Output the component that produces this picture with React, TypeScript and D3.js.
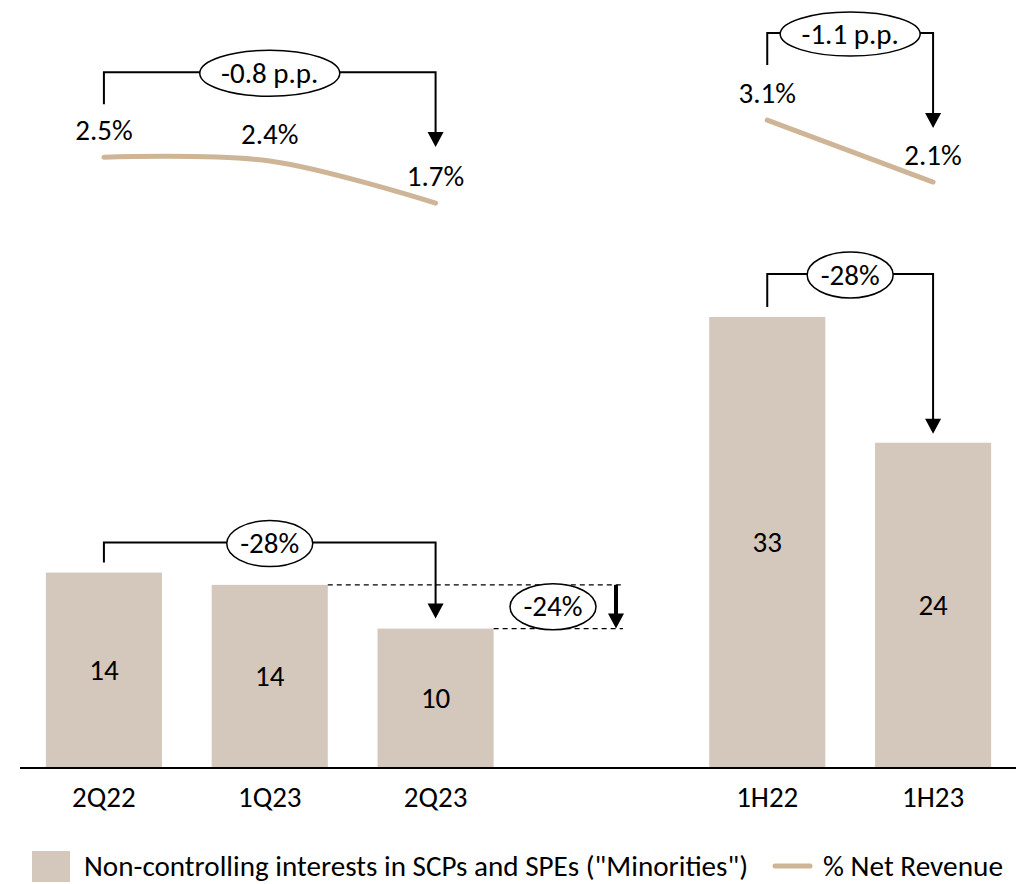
import React from "react";
import * as d3 from "d3";

const categories = ["2Q22", "1Q23", "2Q23", "gap", "1H22", "1H23"];
const barCategories = ["2Q22", "1Q23", "2Q23", "1H22", "1H23"];
const barValues = [14.3, 13.4, 10.2, 33.0, 23.8];
const barLabels = ["14", "14", "10", "33", "24"];

const quarterLineCats = ["2Q22", "1Q23", "2Q23"];
const quarterLineValues = [2.48, 2.42, 1.74];
const quarterLineLabels = ["2.5%", "2.4%", "1.7%"];

const halfLineCats = ["1H22", "1H23"];
const halfLineValues = [3.08, 2.08];
const halfLineLabels = ["3.1%", "2.1%"];

const legendBarText = 'Non-controlling interests in SCPs and SPEs ("Minorities")';
const legendLineText = "% Net Revenue";

const BAR_COLOR = "#d4c7bb";
const LINE_COLOR = "#cfb597";
const FONT = "Carlito, Calibri, Lato, sans-serif";
const FS = 29;

const W = 1025;
const H = 884;

const x = d3
  .scaleBand<string>()
  .domain(categories)
  .range([21, 1016])
  .paddingInner(0.3)
  .paddingOuter(0.15);

const yBar = d3.scaleLinear().domain([0, 33]).range([768, 317]);
const yLine = d3.scaleLinear().domain([2, 3]).range([187, 125]);

const cx = (c: string) => (x(c) ?? 0) + x.bandwidth() / 2;

const lineGen = d3
  .line<[number, number]>()
  .x((d) => d[0])
  .y((d) => d[1])
  .curve(d3.curveCatmullRom.alpha(0.5));

function ArrowHead({ px, py, w = 16, h = 15 }: { px: number; py: number; w?: number; h?: number }) {
  return <path d={`M${px - w / 2},${py - h}L${px + w / 2},${py - h}L${px},${py}Z`} fill="#000" />;
}

function Bracket({
  x1,
  y1,
  yTop,
  x2,
  yTip,
  label,
  rx,
  ry,
}: {
  x1: number;
  y1: number;
  yTop: number;
  x2: number;
  yTip: number;
  label: string;
  rx: number;
  ry: number;
}) {
  const mx = (x1 + x2) / 2;
  return (
    <g>
      <path
        d={`M${x1},${y1}V${yTop}H${x2}V${yTip - 14}`}
        fill="none"
        stroke="#000"
        strokeWidth={2}
      />
      <ArrowHead px={x2} py={yTip} />
      <ellipse cx={mx} cy={yTop + 1} rx={rx} ry={ry} fill="#fff" stroke="#000" strokeWidth={1.5} />
      <text x={mx} y={yTop + 1 + 9.5} textAnchor="middle" fontSize={FS} fill="#000">
        {label}
      </text>
    </g>
  );
}

export default function App() {
  const qPts: [number, number][] = quarterLineCats.map((c, i) => [cx(c), yLine(quarterLineValues[i])]);
  const hPts: [number, number][] = halfLineCats.map((c, i) => [cx(c), yLine(halfLineValues[i])]);

  const v = (c: string) => barValues[barCategories.indexOf(c)];

  const yA = yBar(v("1Q23"));
  const yB = yBar(v("2Q23"));
  const dashEnd = 623;
  const thickX = 616;

  return (
    <svg
      width={W}
      height={H}
      style={{ position: "absolute", left: 0, top: 0, background: "#fff" }}
      fontFamily={FONT}
    >
      <rect x={0} y={0} width={W} height={H} fill="#fff" />

      {/* bars */}
      {barCategories.map((c, i) => (
        <g key={c}>
          <rect
            x={x(c)}
            y={yBar(barValues[i])}
            width={x.bandwidth()}
            height={yBar(0) - yBar(barValues[i])}
            fill={BAR_COLOR}
          />
          <text
            x={cx(c)}
            y={(yBar(barValues[i]) + yBar(0)) / 2 + 9.5}
            textAnchor="middle"
            fontSize={FS}
            fill="#000"
          >
            {barLabels[i]}
          </text>
        </g>
      ))}

      {/* axis */}
      <line x1={20} x2={1016} y1={yBar(0)} y2={yBar(0)} stroke="#000" strokeWidth={2} />
      {categories
        .filter((c) => c !== "gap")
        .map((c) => (
          <text key={c} x={cx(c)} y={807} textAnchor="middle" fontSize={FS} fill="#000">
            {c}
          </text>
        ))}

      {/* % net revenue lines */}
      <path d={lineGen(qPts) ?? ""} fill="none" stroke={LINE_COLOR} strokeWidth={5} strokeLinecap="round" />
      <path d={lineGen(hPts) ?? ""} fill="none" stroke={LINE_COLOR} strokeWidth={5} strokeLinecap="round" />
      {qPts.map((p, i) => (
        <text key={"q" + i} x={p[0]} y={p[1] - 17} textAnchor="middle" fontSize={FS} fill="#000">
          {quarterLineLabels[i]}
        </text>
      ))}
      {hPts.map((p, i) => (
        <text key={"h" + i} x={p[0]} y={p[1] - 17} textAnchor="middle" fontSize={FS} fill="#000">
          {halfLineLabels[i]}
        </text>
      ))}

      {/* line brackets */}
      <Bracket
        x1={qPts[0][0]}
        y1={qPts[0][1] - 53}
        yTop={qPts[0][1] - 85}
        x2={qPts[2][0]}
        yTip={qPts[2][1] - 56}
        label="-0.8 p.p."
        rx={70}
        ry={23}
      />
      <Bracket
        x1={hPts[0][0]}
        y1={hPts[0][1] - 55}
        yTop={hPts[0][1] - 87}
        x2={hPts[1][0]}
        yTip={hPts[1][1] - 54}
        label="-1.1 p.p."
        rx={70}
        ry={22}
      />

      {/* bar brackets */}
      <Bracket
        x1={cx("2Q22")}
        y1={yBar(v("2Q22")) - 10}
        yTop={yBar(v("2Q22")) - 30}
        x2={cx("2Q23")}
        yTip={yBar(v("2Q23")) - 10}
        label="-28%"
        rx={43}
        ry={23}
      />
      <Bracket
        x1={cx("1H22")}
        y1={yBar(v("1H22")) - 10}
        yTop={yBar(v("1H22")) - 43}
        x2={cx("1H23")}
        yTip={yBar(v("1H23")) - 9}
        label="-28%"
        rx={43}
        ry={23}
      />

      {/* -24% dashed comparison */}
      <line
        x1={(x("1Q23") ?? 0) + x.bandwidth()}
        x2={dashEnd}
        y1={yA}
        y2={yA}
        stroke="#000"
        strokeWidth={1.2}
        strokeDasharray="5,4"
      />
      <line
        x1={(x("2Q23") ?? 0) + x.bandwidth()}
        x2={dashEnd}
        y1={yB}
        y2={yB}
        stroke="#000"
        strokeWidth={1.2}
        strokeDasharray="5,4"
      />
      <line x1={thickX} x2={thickX} y1={yA} y2={yB - 14} stroke="#000" strokeWidth={4} />
      <ArrowHead px={thickX} py={yB} />
      <ellipse cx={553} cy={(yA + yB) / 2} rx={43} ry={23} fill="#fff" stroke="#000" strokeWidth={1.5} />
      <text x={553} y={(yA + yB) / 2 + 9.5} textAnchor="middle" fontSize={FS} fill="#000">
        -24%
      </text>

      {/* legend */}
      <rect x={32} y={851} width={38} height={31} fill={BAR_COLOR} />
      <text x={84} y={876} fontSize={FS} fill="#000" textLength={664} lengthAdjust="spacingAndGlyphs">
        {legendBarText}
      </text>
      <line x1={775} x2={810} y1={866} y2={866} stroke={LINE_COLOR} strokeWidth={5} strokeLinecap="round" />
      <text x={823} y={876} fontSize={FS} fill="#000" textLength={180} lengthAdjust="spacingAndGlyphs">
        {legendLineText}
      </text>
    </svg>
  );
}
